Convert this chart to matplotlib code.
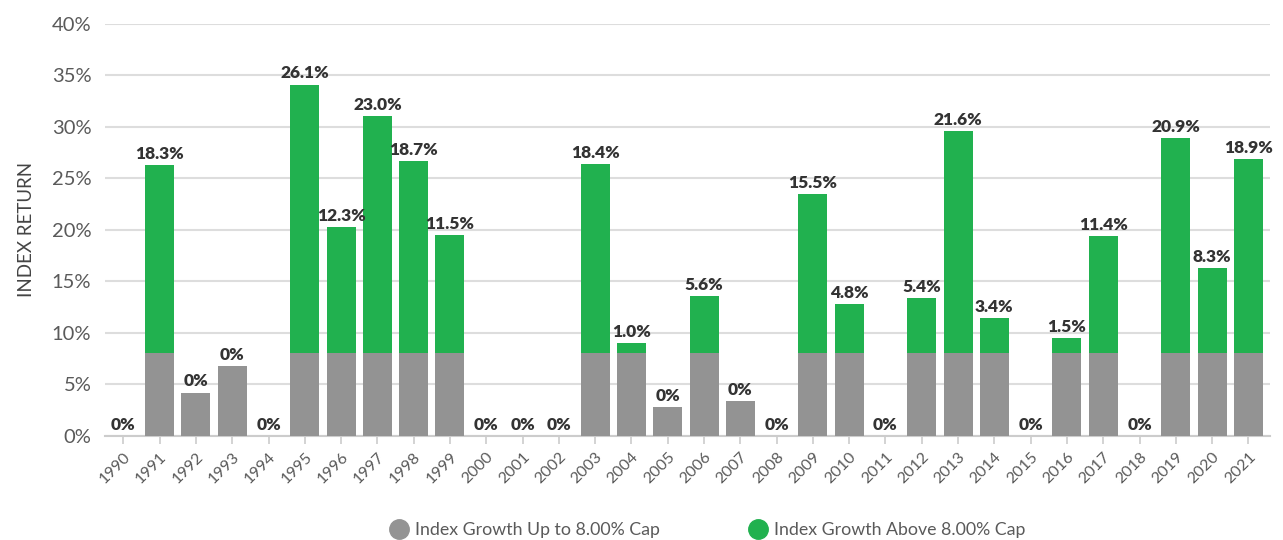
import matplotlib.pyplot as plt
from matplotlib.lines import Line2D

years = list(range(1990, 2022))

# portion of the index return up to the 8% cap
capped = [0, 8, 4.2, 6.8, 0, 8, 8, 8, 8, 8,
          0, 0, 0, 8, 8, 2.8, 8, 3.4, 0, 8,
          8, 0, 8, 8, 8, 0, 8, 8, 0, 8,
          8, 8]

# growth above the cap (these are also the bar labels)
above = [0, 18.3, 0, 0, 0, 26.1, 12.3, 23.0, 18.7, 11.5,
         0, 0, 0, 18.4, 1.0, 0, 5.6, 0, 0, 15.5,
         4.8, 0, 5.4, 21.6, 3.4, 0, 1.5, 11.4, 0, 20.9,
         8.3, 18.9]

gray = '#939393'
green = '#21B14F'
txt = '#5a5a5a'

plt.rcParams['font.family'] = ['Lato', 'DejaVu Sans']

fig = plt.figure(figsize=(12.83, 5.4), dpi=100)
ax = fig.add_axes([0.082, 0.193, 0.908, 0.763])

x = list(range(len(years)))
ax.bar(x, capped, width=0.8, color=gray, zorder=3)
ax.bar(x, above, width=0.8, bottom=capped, color=green, zorder=3)

for i in x:
    top = capped[i] + above[i]
    if above[i] > 0:
        lab = f"{above[i]:.1f}%"
    else:
        lab = "0%"
    ax.text(i, top + 0.3, lab, ha='center', va='bottom', fontsize=12.5,
            fontweight='heavy', color='#333333', zorder=4)

ax.set_ylim(0, 40)
ax.set_xlim(-0.5, 31.6)
ax.set_yticks(range(0, 41, 5))
ax.set_yticklabels([f"{v}%" for v in range(0, 41, 5)], fontsize=14.5, color=txt)
ax.set_xticks(x)
ax.set_xticklabels([str(y) for y in years], rotation=45, ha='right',
                   rotation_mode='anchor', fontsize=11.5, color=txt)
ax.tick_params(axis='y', length=0, pad=10)
ax.tick_params(axis='x', length=6, color='#cccccc', width=1.2, pad=4)

ax.grid(axis='y', color='#dddddd', linewidth=1.5, zorder=0)
for s in ['top', 'right', 'left']:
    ax.spines[s].set_visible(False)
ax.spines['bottom'].set_color('#cccccc')
ax.spines['bottom'].set_linewidth(1.5)

ax.set_ylabel('INDEX RETURN', fontsize=13.5, color='#444444', labelpad=12)

handles = [Line2D([], [], marker='o', linestyle='', markersize=14,
                  markerfacecolor=gray, markeredgecolor=gray),
           Line2D([], [], marker='o', linestyle='', markersize=14,
                  markerfacecolor=green, markeredgecolor=green)]
fig.legend(handles, ['Index Growth Up to 8.00% Cap', 'Index Growth Above 8.00% Cap'],
           loc='center', bbox_to_anchor=(0.548, 0.018), ncol=2, frameon=False,
           labelcolor=txt, handletextpad=-0.1, columnspacing=4.5,
           prop={'size': 12.8})

fig.savefig('out.png', dpi=100)
